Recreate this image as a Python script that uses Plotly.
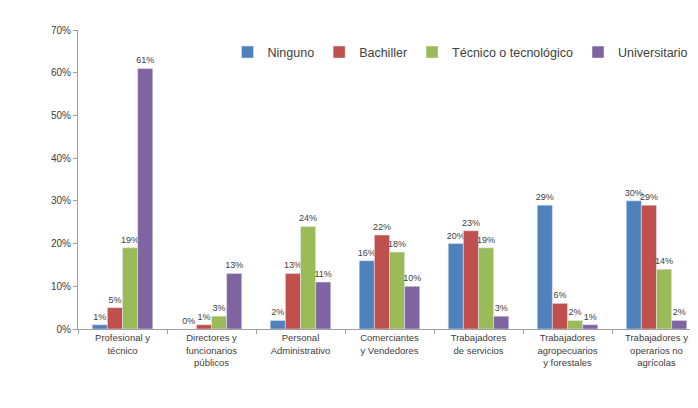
import plotly.graph_objects as go

categories = ["Profesional y<br>técnico", "Directores y<br>funcionarios<br>públicos",
              "Personal<br>Administrativo", "Comerciantes<br>y Vendedores",
              "Trabajadores<br>de servicios", "Trabajadores<br>agropecuarios<br>y forestales",
              "Trabajadores y<br>operarios no<br>agrícolas"]
series_names = ["Ninguno", "Bachiller", "Técnico o tecnológico", "Universitario"]
ninguno = [1, 0, 2, 16, 20, 29, 30]
bachiller = [5, 1, 13, 22, 23, 6, 29]
tecnico = [19, 3, 24, 18, 19, 2, 14]
universitario = [61, 13, 11, 10, 3, 1, 2]
colors = ["#4F81BD", "#C0504D", "#9BBB59", "#8064A2"]

fig = go.Figure()
for name, vals, col in zip(series_names, [ninguno, bachiller, tecnico, universitario], colors):
    fig.add_trace(go.Bar(
        x=categories, y=vals, name=name, marker_color=col,
        text=[f"{v}%" for v in vals], textposition="outside",
        textfont=dict(size=9, color="#404040"), cliponaxis=False,
        constraintext="none",
    ))

fig.update_layout(
    width=698, height=408,
    margin=dict(l=70, r=5, t=22, b=87),
    paper_bgcolor="white", plot_bgcolor="white",
    barmode="group", bargap=0.32, bargroupgap=0,
    font=dict(family="Liberation Sans, Arial, sans-serif", size=10, color="#404040"),
    showlegend=True,
    legend=dict(orientation="h", x=0.24, y=0.925, xanchor="left", yanchor="middle",
                font=dict(size=12.5, color="#404040"), bgcolor="rgba(0,0,0,0)",
                itemwidth=30, traceorder="normal", tracegroupgap=0),
)
fig.update_yaxes(range=[0, 70], dtick=10, ticksuffix="%", showgrid=False,
                 showline=True, linecolor="#A0A0A0", ticks="outside", ticklen=4,
                 tickcolor="#A0A0A0", zeroline=False, tickfont=dict(size=10))
fig.update_xaxes(showline=True, linecolor="#A0A0A0", ticks="outside", ticklen=4,
                 tickcolor="#A0A0A0", tickson="boundaries", tickangle=0,
                 tickfont=dict(size=9.5))

fig.write_html("out.html")
